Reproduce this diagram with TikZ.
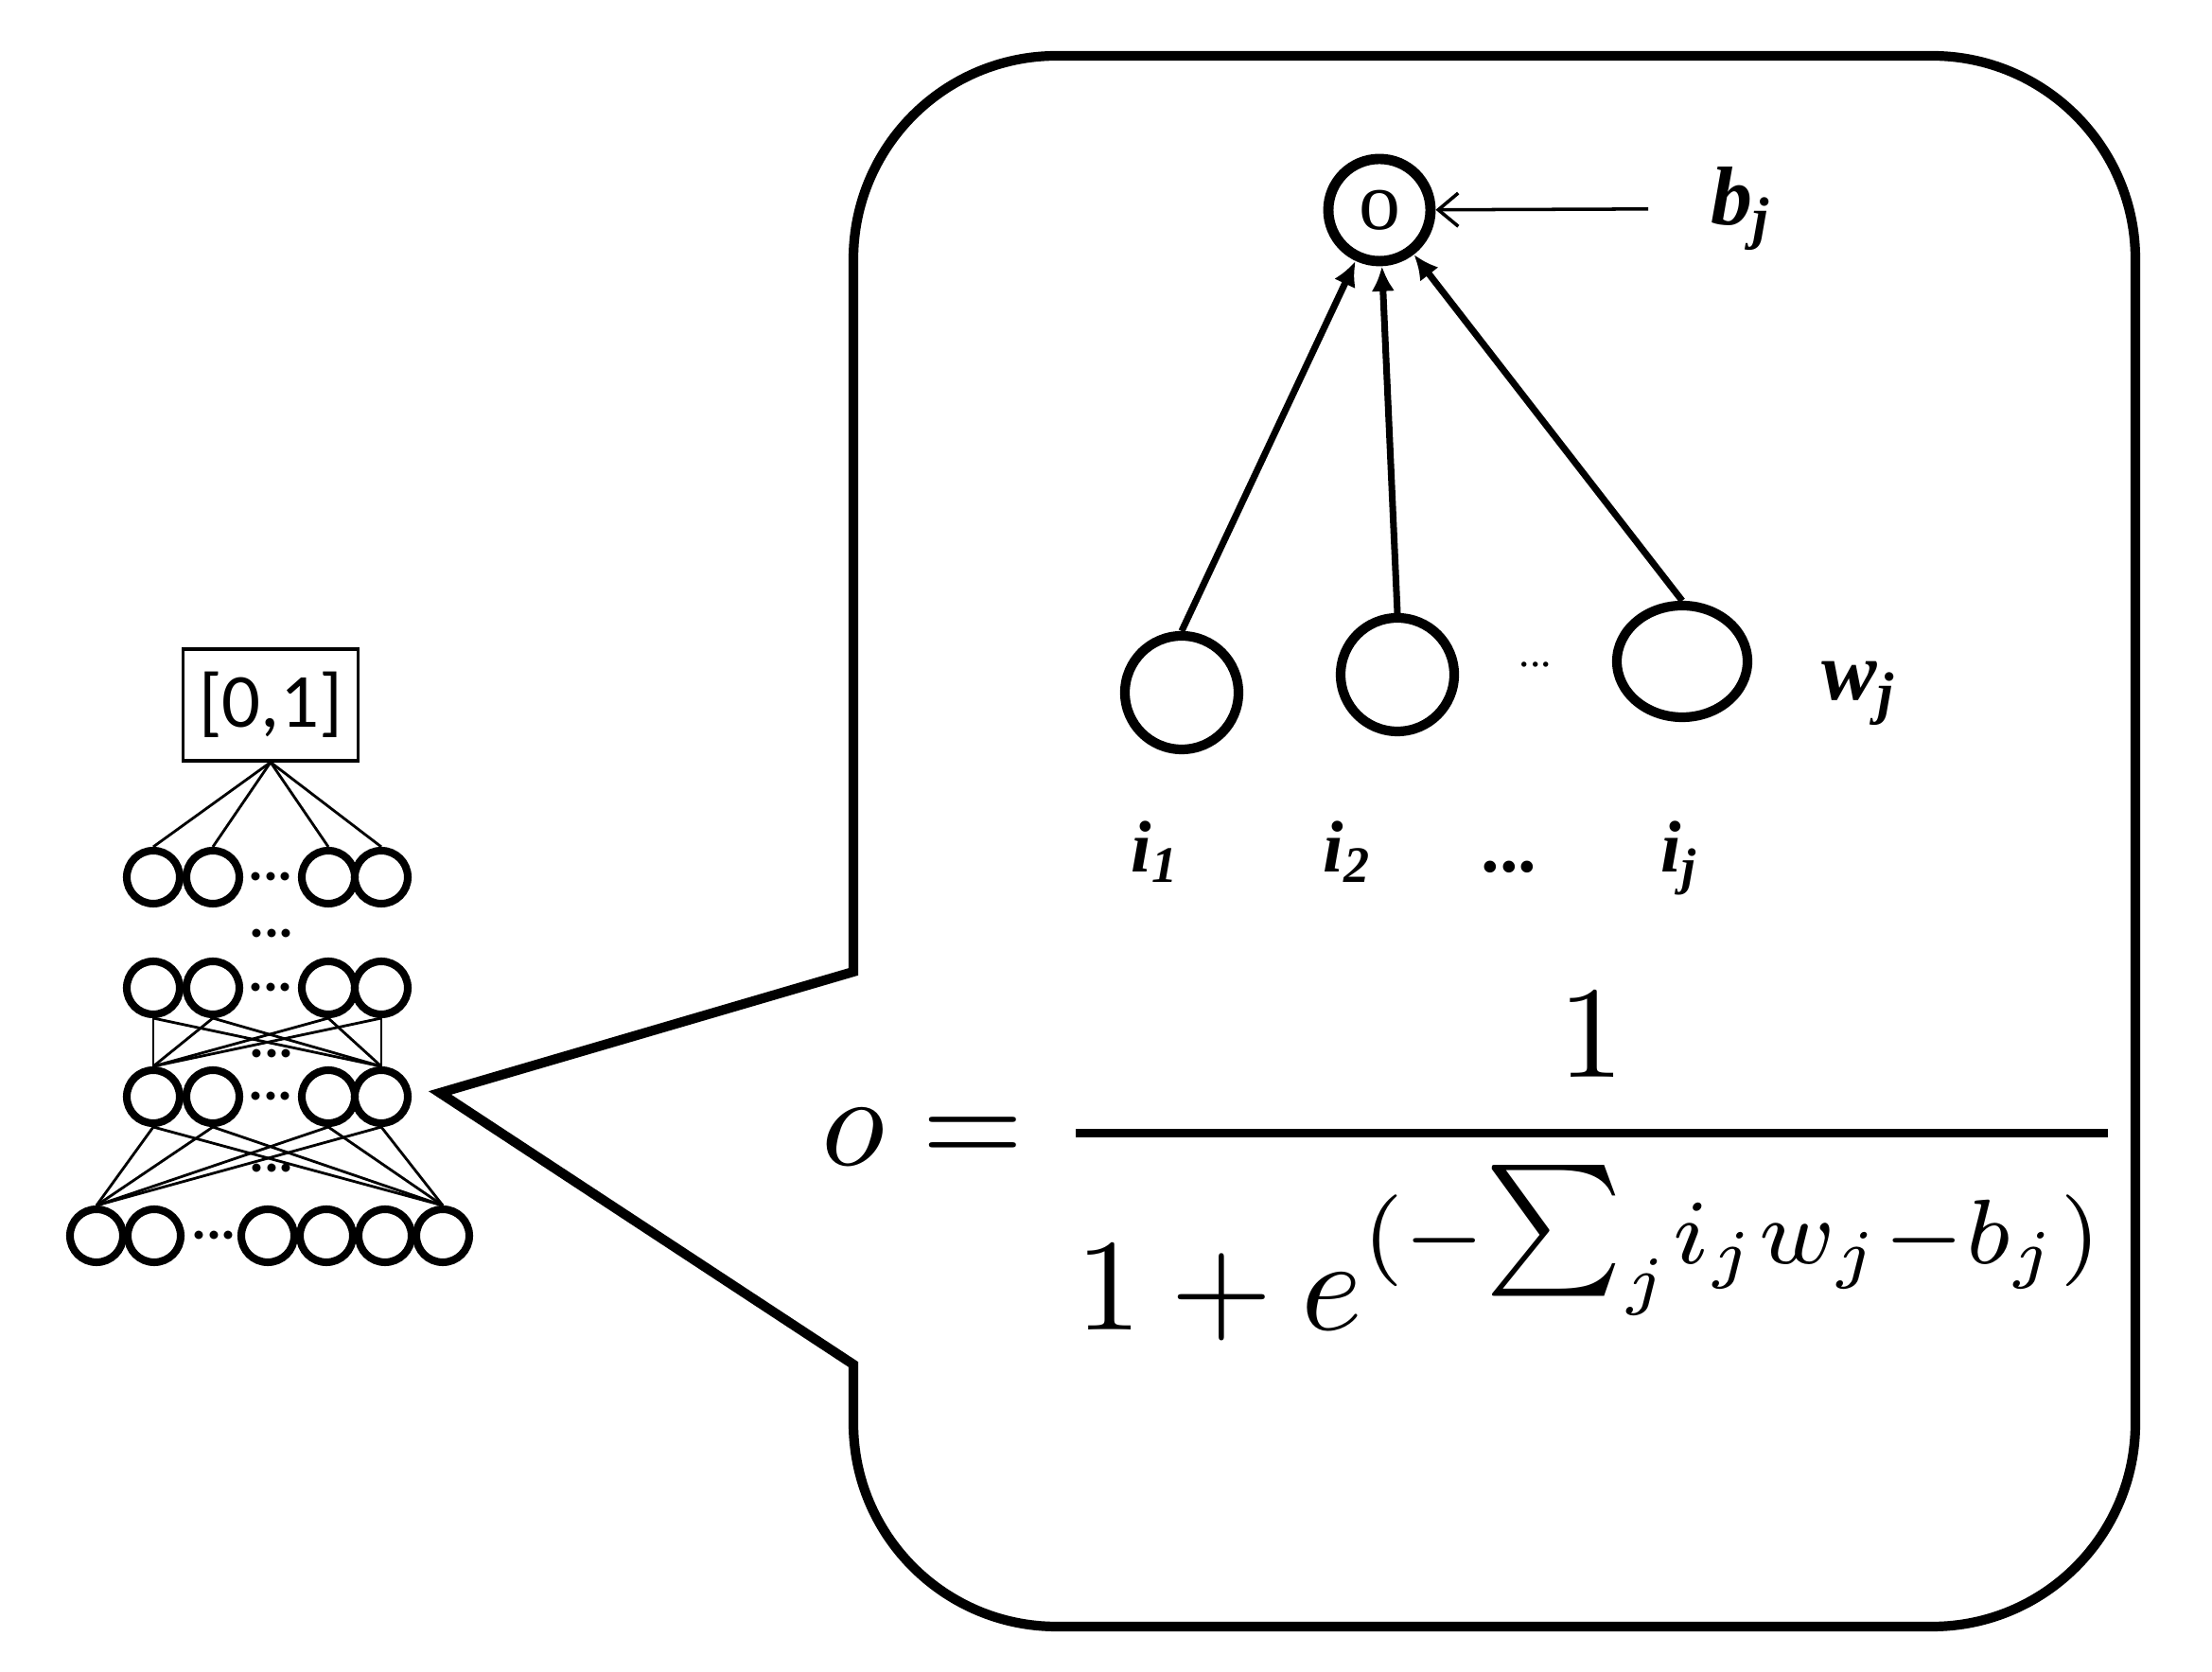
\documentclass[tikz,border=0pt]{standalone}
\usepackage{fontspec}
\usetikzlibrary{arrows.meta,shapes.geometric}
\newfontfamily\labelfont{Liberation Serif}
\newfontfamily\boxfont{Carlito}
\tikzset{
  unit/.style={circle,draw,line width=2.3pt,minimum size=0.56cm,inner sep=0pt},
  wire/.style={line width=0.8pt},
  rowdots/.style={font=\boxfont\bfseries\fontsize{17}{19}\selectfont,inner sep=0pt},
  neuron/.style={circle,draw,line width=2.9pt,minimum size=1.2cm,inner sep=0pt},
  lab/.style={font=\labelfont\bfseries\itshape\fontsize{22}{26}\selectfont,inner sep=0pt,anchor=base west},
  biglab/.style={lab,font=\labelfont\bfseries\itshape\fontsize{25}{30}\selectfont},
  inarrow/.style={line width=2pt,-{Latex[length=7.5pt,width=7pt]}},
}
\begin{document}
\begin{tikzpicture}
\useasboundingbox (0,0) rectangle (23.38,17.67);
% callout
\draw[line width=2.9pt,line join=miter] (4.65,6.12) -- (9.02,3.25) -- (9.02,2.63) arc(180:270:2.15) -- (20.42,0.48) arc(270:360:2.15)
  -- (22.57,14.93) arc(0:90:2.15) -- (11.17,17.08) arc(90:180:2.15) -- (9.02,7.40) -- cycle;
% small network
\node[draw,line width=0.9pt,minimum width=1.85cm,minimum height=1.18cm,inner sep=2pt,font=\boxfont\fontsize{23}{26}\selectfont] (out) at (2.86,10.22) {[0,1]};
\foreach \n/\x in {1/1.62,2/2.25,3/3.47,4/4.03} {
  \node[unit] (a\n) at (\x,8.40) {};
  \node[unit] (b\n) at (\x,7.23) {};
  \node[unit] (c\n) at (\x,6.08) {};
}
\foreach \n/\x in {1/1.02,2/1.63,3/2.83,4/3.45,5/4.07,6/4.68} \node[unit] (d\n) at (\x,4.61) {};
\node[rowdots] (ad) at (2.86,8.40) {...};
\node[rowdots] (bd) at (2.86,7.23) {...};
\node[rowdots] (cd) at (2.86,6.08) {...};
\node[rowdots] (dd) at (2.26,4.61) {...};
\node[rowdots] (abd) at (2.87,7.80) {...};
\node[rowdots] (bcd) at (2.87,6.53) {...};
\node[rowdots] (cdd) at (2.87,5.32) {...};
\foreach \n in {1,...,4} {
  \draw[wire] (out.south) -- (a\n.north);
  \draw[wire] (c1.north) -- (b\n.south); \draw[wire] (c4.north) -- (b\n.south);
  \draw[wire] (d1.north) -- (c\n.south); \draw[wire] (d6.north) -- (c\n.south);
}
% one neuron
\node[circle,draw,line width=3.1pt,minimum size=1.08cm,inner sep=0pt,font=\labelfont\fontsize{25}{30}\selectfont] (o) at (14.58,15.45) {o};
\node[neuron] (i1) at (12.49,10.35) {};
\node[neuron] (i2) at (14.77,10.54) {};
\node[neuron,ellipse,minimum width=1.38cm,minimum height=1.18cm] (ij) at (17.78,10.68) {};
\node[font=\labelfont\fontsize{13}{15}\selectfont,inner sep=0pt] (idots) at (16.23,10.65) {...};
\foreach \n in {i1,i2,ij} \draw[inarrow] (\n.north) -- (o);
\node[biglab] (bj) at (18.08,15.29) {b\textsubscript{j}};
\draw[line width=1pt,-{Straight Barb[length=6pt,width=10pt]},shorten <=0.66cm] (bj.west) -- (o);
\node[lab] (l1) at (11.95,8.45) {i\textsubscript{1}};
\node[lab] (l2) at (13.98,8.45) {i\textsubscript{2}};
\node[lab] (ldots) at (15.68,8.45) {...};
\node[lab] (lj) at (17.55,8.45) {i\textsubscript{j}};
\node[biglab] (wj) at (19.25,10.27) {w\textsubscript{j}};
% sigmoid
\node[scale=3.94,anchor=base west,inner sep=0pt] (eq) at (8.66,5.35) {$\displaystyle o={1\above0.7pt 1+e^{(-{\textstyle\sum}_j i_jw_j-b_j)}}$};
\end{tikzpicture}
\end{document}
